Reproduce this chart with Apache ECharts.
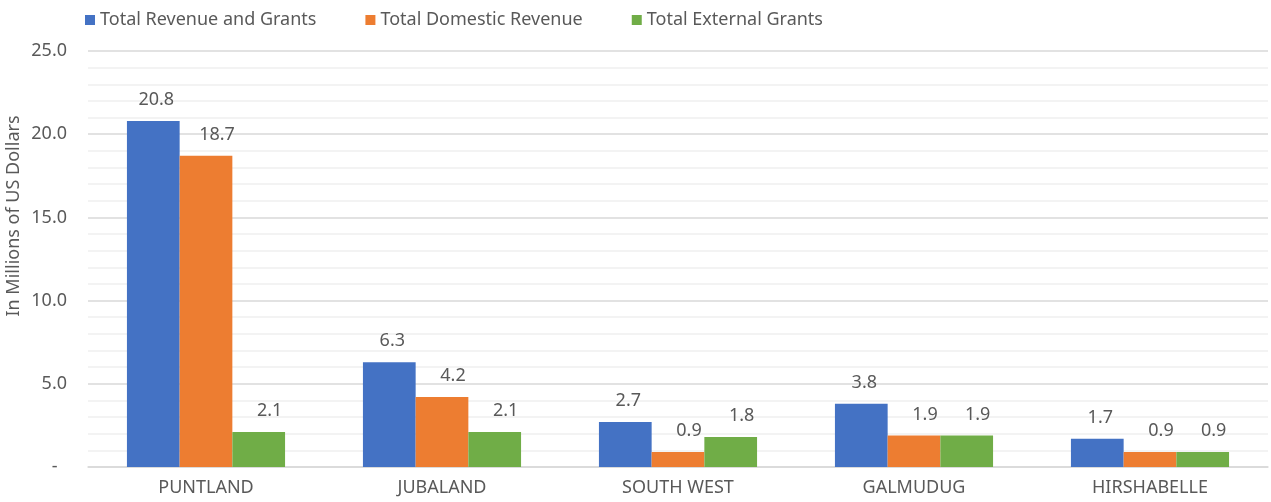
<!DOCTYPE html>
<html>
<head>
<meta charset="utf-8">
<script src="https://cdn.jsdelivr.net/npm/echarts@6/dist/echarts.min.js"></script>
<style>
  html, body { margin: 0; padding: 0; background: #fff; }
  #chart { width: 1271px; height: 502px; }
</style>
</head>
<body>
<div id="chart"></div>
<script>
// Federal member states, revenue figures in millions of US dollars
const categories = ['PUNTLAND', 'JUBALAND', 'SOUTH WEST', 'GALMUDUG', 'HIRSHABELLE'];
const seriesNames = ['Total Revenue and Grants', 'Total Domestic Revenue', 'Total External Grants'];
const revenueAndGrants = [20.8, 6.3, 2.7, 3.8, 1.7];
const domesticRevenue = [18.7, 4.2, 0.9, 1.9, 0.9];
const externalGrants = [2.1, 2.1, 1.8, 1.9, 0.9];
const seriesColors = ['#4472C4', '#ED7D31', '#70AD47'];
const axisTitle = 'In Millions of US Dollars';

const FONT = '"Noto Sans", sans-serif';
const TEXT = '#595959';

const chart = echarts.init(document.getElementById('chart'), null, { renderer: 'canvas' });

// value labels sit above each bar, nudged slightly to the right
function barSeries(name, data, color, labelShift) {
  return {
    name: name,
    type: 'bar',
    data: data,
    barGap: '0%',
    barCategoryGap: '33%',
    itemStyle: { color: color },
    label: {
      show: true,
      position: 'top',
      distance: 12,
      offset: [labelShift, 0],
      color: TEXT,
      fontFamily: FONT,
      fontSize: 18,
      formatter: p => p.value.toFixed(1)
    }
  };
}

chart.setOption({
  animation: false,
  color: seriesColors,
  legend: {
    left: 80,
    top: 6,
    itemWidth: 10,
    itemHeight: 10,
    itemGap: 49,
    icon: 'rect',
    textStyle: { color: TEXT, fontFamily: FONT, fontSize: 18 },
    data: seriesNames
  },
  grid: { left: 88, right: 3, top: 51, bottom: 35, containLabel: false },
  // rotated value-axis title, sitting left of the tick labels
  graphic: [{
    type: 'text',
    x: 14,
    y: 216,
    rotation: Math.PI / 2,
    style: {
      text: axisTitle,
      fill: TEXT,
      font: '18px ' + FONT,
      textAlign: 'center',
      textVerticalAlign: 'middle'
    }
  }],
  xAxis: {
    type: 'category',
    data: categories,
    axisTick: { show: false },
    axisLine: { lineStyle: { color: '#d9d9d9', width: 1.5 } },
    axisLabel: { color: TEXT, fontFamily: FONT, fontSize: 18, margin: 12 }
  },
  yAxis: {
    type: 'value',
    min: 0,
    max: 25,
    interval: 5,
    axisLine: { show: false },
    axisTick: { show: false },
    axisLabel: {
      color: TEXT, fontFamily: FONT, fontSize: 18, margin: 21,
      formatter: v => v === 0 ? '-  ' : v.toFixed(1)
    },
    splitLine: { lineStyle: { color: '#d9d9d9', width: 1.5 } },
    minorTick: { show: false, splitNumber: 5 },
    minorSplitLine: { show: true, lineStyle: { color: '#f0f0f0', width: 1.5 } }
  },
  series: [
    barSeries(seriesNames[0], revenueAndGrants, seriesColors[0], 3),
    barSeries(seriesNames[1], domesticRevenue, seriesColors[1], 11),
    barSeries(seriesNames[2], externalGrants, seriesColors[2], 11)
  ]
});
</script>
</body>
</html>
